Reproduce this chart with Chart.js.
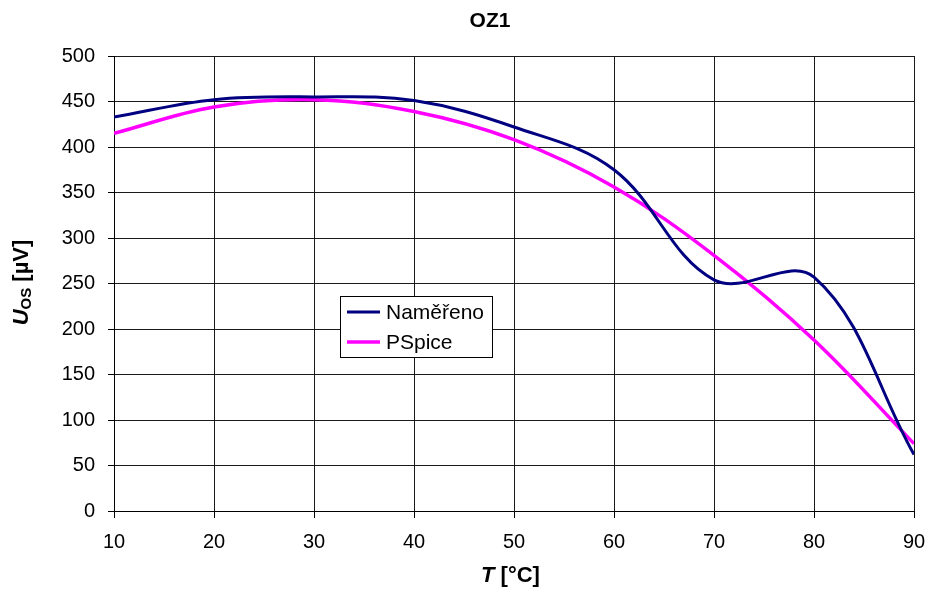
<!DOCTYPE html>
<html>
<head>
<meta charset="utf-8">
<script src="https://cdn.jsdelivr.net/npm/chart.js@4.4.1/dist/chart.umd.min.js"></script>
<style>
  html, body { margin: 0; padding: 0; background: #fff; }
  canvas { display: block; }
</style>
</head>
<body>
<canvas id="chart" width="932" height="590"></canvas>
<script>
// temperatures [°C] and offset voltage [µV]
const temps = [10, 20, 30, 40, 50, 60, 70, 80, 90];
const measured = [433, 452, 455, 451, 422, 375, 254, 257, 62];
const pspice = [415, 444, 452, 439, 408, 356, 281, 188, 74];
const seriesNames = ["Naměřeno", "PSpice"];
const yTicks = [0, 50, 100, 150, 200, 250, 300, 350, 400, 450, 500];

const fontFamily = "'Liberation Sans', Arial, sans-serif";

// title, axis titles (with italic / subscript parts) and the floating legend
const decorations = {
  id: "decorations",
  afterDraw(chart) {
    const ctx = chart.ctx;
    ctx.save();
    ctx.fillStyle = "#000";

    // chart title
    ctx.font = "bold 21px " + fontFamily;
    ctx.textAlign = "center";
    ctx.textBaseline = "middle";
    ctx.fillText("OZ1", 490, 21);

    // x axis title: T [°C]
    ctx.textAlign = "left";
    ctx.textBaseline = "alphabetic";
    let partsX = [
      { t: "T", f: "italic bold 22px " + fontFamily },
      { t: " [°C]", f: "bold 22px " + fontFamily },
    ];
    let w = 0;
    partsX.forEach(p => { ctx.font = p.f; w += ctx.measureText(p.t).width; });
    let x = 510.5 - w / 2;
    partsX.forEach(p => { ctx.font = p.f; ctx.fillText(p.t, x, 582); x += ctx.measureText(p.t).width; });

    // y axis title: U_OS [µV]
    let partsY = [
      { t: "U", f: "italic bold 22px " + fontFamily, dy: 0 },
      { t: "OS", f: "bold 15px " + fontFamily, dy: 3 },
      { t: " [µV]", f: "bold 22px " + fontFamily, dy: 0 },
    ];
    w = 0;
    partsY.forEach(p => { ctx.font = p.f; w += ctx.measureText(p.t).width; });
    ctx.translate(28, 282.5);
    ctx.rotate(-Math.PI / 2);
    x = -w / 2;
    partsY.forEach(p => { ctx.font = p.f; ctx.fillText(p.t, x, p.dy); x += ctx.measureText(p.t).width; });
    ctx.restore();

    // legend box
    ctx.save();
    ctx.fillStyle = "#fff";
    ctx.fillRect(340.5, 296.5, 152, 61);
    ctx.strokeStyle = "#000";
    ctx.lineWidth = 1;
    ctx.strokeRect(340.5, 296.5, 152, 61);
    ctx.font = "21px " + fontFamily;
    ctx.textAlign = "left";
    ctx.textBaseline = "middle";
    chart.data.datasets.forEach((ds, i) => {
      let ly = 312 + i * 30;
      ctx.strokeStyle = ds.borderColor;
      ctx.lineWidth = ds.borderWidth;
      ctx.beginPath();
      ctx.moveTo(347, ly);
      ctx.lineTo(380, ly);
      ctx.stroke();
      ctx.fillStyle = "#000";
      ctx.fillText(ds.label, 386, ly + 1);
    });
    ctx.restore();
  },
};

new Chart(document.getElementById("chart"), {
  type: "line",
  data: {
    datasets: [
      {
        label: seriesNames[0],
        data: temps.map((t, i) => ({ x: t, y: measured[i] })),
        borderColor: "#000080",
        borderWidth: 3,
        tension: 0.37,
        pointRadius: 0,
        fill: false,
      },
      {
        label: seriesNames[1],
        data: temps.map((t, i) => ({ x: t, y: pspice[i] })),
        borderColor: "#ff00ff",
        borderWidth: 3.5,
        tension: 0.37,
        pointRadius: 0,
        fill: false,
      },
    ],
  },
  options: {
    responsive: false,
    animation: false,
    events: [],
    layout: { padding: { top: 56, right: 18, left: 0, bottom: 0 } },
    plugins: {
      legend: { display: false },
      title: { display: false },
      tooltip: { enabled: false },
    },
    scales: {
      x: {
        type: "linear",
        min: temps[0],
        max: temps[temps.length - 1],
        afterFit: (scale) => {
          scale.height = 79;
          scale.paddingLeft = 0;
          scale.paddingRight = 0;
        },
        ticks: {
          stepSize: 10,
          color: "#000",
          padding: 12,
          maxRotation: 0,
          font: { size: 20, family: fontFamily },
        },
        grid: { color: "#1a1a1a", lineWidth: 1, tickLength: 7, tickColor: "#000" },
        border: { color: "#000" },
      },
      y: {
        min: yTicks[0],
        max: yTicks[yTicks.length - 1],
        afterFit: (scale) => { scale.width = 114; },
        afterBuildTicks: (scale) => { scale.ticks = yTicks.map(v => ({ value: v })); },
        ticks: {
          color: "#000",
          padding: 13,
          font: { size: 20, family: fontFamily },
        },
        grid: { color: "#1a1a1a", lineWidth: 1, tickLength: 6, tickColor: "#000" },
        border: { color: "#000" },
      },
    },
  },
  plugins: [decorations],
});
</script>
</body>
</html>
